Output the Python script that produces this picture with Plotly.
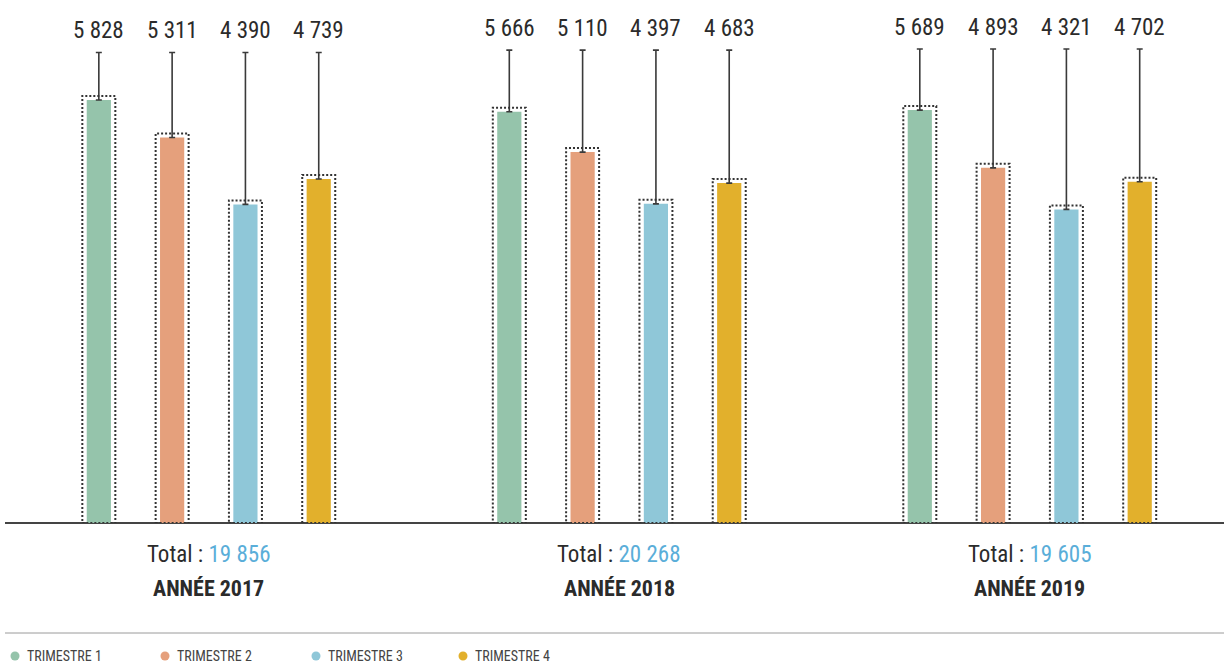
import plotly.graph_objects as go

# ---- data ----
years = ["ANNÉE 2017", "ANNÉE 2018", "ANNÉE 2019"]
quarters = ["TRIMESTRE 1", "TRIMESTRE 2", "TRIMESTRE 3", "TRIMESTRE 4"]
values_2017 = [5828, 5311, 4390, 4739]
values_2018 = [5666, 5110, 4397, 4683]
values_2019 = [5689, 4893, 4321, 4702]
totals = [19856, 20268, 19605]  # as printed in the source

# ---- style ----
colors = ["#95c4ab", "#e5a07c", "#8fc7d8", "#e2b02c"]
FONT = "Roboto Condensed, Open Sans, Roboto, sans-serif"
TXT = "#2b2b2b"
W, H = 1224, 666
ML, MB = 5, 143
PLOT_W = W - ML
PLOT_H = H - MB
YMAX = 7206
GROUP_STEP = 5.6
LEADER_TOP = [6483, 6515, 6530]
px_per_unit = PLOT_H / YMAX

series = [values_2017, values_2018, values_2019]


def fmt(v):
    return f"{v:,}".replace(",", " ")


fig = go.Figure()
shapes = []
annotations = []

for q in range(4):
    xs, ys, up = [], [], []
    for g, vals in enumerate(series):
        xs.append(g * GROUP_STEP + q)
        ys.append(vals[q])
        up.append(LEADER_TOP[g] - vals[q])
    fig.add_trace(go.Bar(
        x=xs, y=ys, name=quarters[q], width=0.33,
        marker=dict(color=colors[q], line=dict(width=0)),
        error_y=dict(type="data", symmetric=False, array=up,
                     arrayminus=[0] * len(up), color="#3a3a3a",
                     thickness=1.6, width=3),
        showlegend=False, hoverinfo="x+y",
    ))
    for g, vals in enumerate(series):
        x = g * GROUP_STEP + q
        # dotted frame around the bar
        shapes.append(dict(
            type="rect", xref="x", yref="y", xsizemode="pixel", xanchor=x,
            x0=-16.5, x1=16.5, y0=0, y1=vals[q] + 4 / px_per_unit,
            line=dict(color="#333333", width=2, dash="2px,2px"),
            fillcolor="rgba(0,0,0,0)", layer="above",
        ))
        annotations.append(dict(
            x=x, y=LEADER_TOP[g], xref="x", yref="y", text=fmt(vals[q]),
            showarrow=False, yanchor="middle", yshift=22,
            font=dict(family=FONT, size=23, color=TXT),
        ))

for g in range(3):
    xc = g * GROUP_STEP + 1.5
    annotations.append(dict(
        x=xc, y=0, xref="x", yref="paper", showarrow=False,
        yanchor="middle", yshift=-31,
        text=f"Total : <span style='color:#5aaed9'>{fmt(totals[g])}</span>",
        font=dict(family=FONT, size=23, color=TXT),
    ))
    annotations.append(dict(
        x=xc, y=0, xref="x", yref="paper", showarrow=False,
        yanchor="middle", yshift=-65,
        text=f"<b>{years[g]}</b>",
        font=dict(family=FONT, size=22, color=TXT),
    ))

# separator line above the legend
shapes.append(dict(type="line", xref="paper", yref="paper", x0=0, x1=1,
                   y0=-110 / PLOT_H, y1=-110 / PLOT_H,
                   line=dict(color="#9a9a9a", width=1)))

# legend (coloured dot + label)
legend_dot_px = [15, 165, 316, 463]
LEG_Y = -133
for q in range(4):
    shapes.append(dict(
        type="circle", xref="paper", yref="paper",
        xsizemode="pixel", ysizemode="pixel",
        xanchor=(legend_dot_px[q] - ML) / PLOT_W, yanchor=LEG_Y / PLOT_H,
        x0=-4.5, x1=4.5, y0=-4.5, y1=4.5,
        fillcolor=colors[q], line=dict(width=0),
    ))
    annotations.append(dict(
        x=0, y=0, xref="paper", yref="paper", showarrow=False,
        xanchor="left", yanchor="middle",
        xshift=legend_dot_px[q] + 10 - ML, yshift=LEG_Y,
        text=quarters[q],
        font=dict(family=FONT, size=14, color="#444444"),
    ))

fig.update_layout(
    width=W, height=H,
    margin=dict(l=ML, r=0, t=0, b=MB),
    paper_bgcolor="white", plot_bgcolor="white",
    barmode="overlay",
    xaxis=dict(range=[-1.28, 15.35], showgrid=False, zeroline=False,
               showticklabels=False, ticks="", showline=False, fixedrange=True),
    yaxis=dict(range=[0, YMAX], showgrid=False, zeroline=True,
               zerolinecolor="#444444", zerolinewidth=2,
               showticklabels=False, ticks="", showline=False, fixedrange=True),
    shapes=shapes, annotations=annotations, showlegend=False,
)

fig.write_html("out.html", config={"displayModeBar": False},
               post_script="document.body.style.margin='0px';")
